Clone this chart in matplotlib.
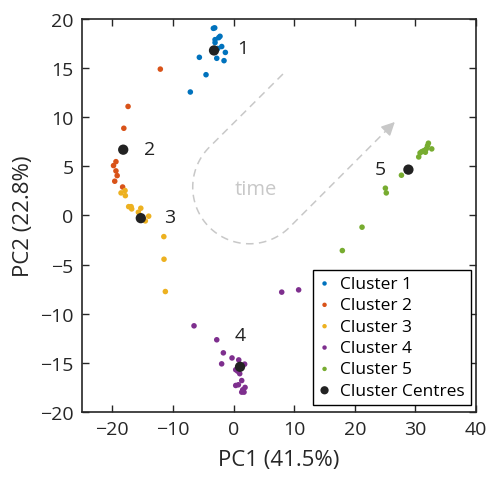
import matplotlib
matplotlib.use('Agg')
import matplotlib.pyplot as plt
import numpy as np

plt.rcParams['font.family'] = ['Open Sans', 'DejaVu Sans']

# PCA scores (PC1, PC2)
c1_x = [-3.33, -3.1, -2.23, -2.45, -3.05, -3.05, -1.95, -2.6, -1.35, -5.64, -2.77, -1.57, -4.54, -7.13]
c1_y = [19.05, 19.1, 18.24, 18.1, 17.9, 17.6, 17.2, 17.0, 16.6, 16.1, 16.0, 15.76, 14.33, 12.57]
c2_x = [-12.08, -17.4, -18.1, -19.4, -19.8, -19.4, -19.2, -19.6, -18.3]
c2_y = [14.9, 11.1, 8.88, 5.48, 5.08, 4.54, 4.06, 3.49, 2.9]
c3_x = [-17.9, -18.56, -17.85, -17.3, -16.9, -16.8, -15.3, -15.7, -14.0, -14.55, -11.5, -11.47, -11.25]
c3_y = [2.54, 2.3, 2.02, 0.9, 0.9, 0.67, 0.74, 0.33, -0.07, -0.55, -2.15, -4.45, -7.74]
c4_x = [7.95, 10.74, -6.52, -2.77, -1.68, -0.25, 0.86, -1.96, 1.83, 0.36, 0.69, 1.02,
        1.35, 0.36, 0.8, 1.9, 1.52, 1.35, 1.73]
c4_y = [-7.8, -7.57, -11.23, -12.65, -13.98, -14.5, -14.7, -15.1, -15.13, -15.7, -15.85, -16.1,
        -16.8, -17.3, -17.23, -17.5, -17.74, -17.98, -17.98]
c5_x = [17.95, 21.2, 25.05, 25.2, 27.7, 30.55, 30.77, 31.05, 31.4, 31.8, 31.65, 32.15, 32.7, 32.0]
c5_y = [-3.57, -1.19, 2.78, 2.3, 4.1, 5.96, 6.37, 6.5, 6.6, 6.78, 6.44, 7.36, 6.78, 7.1]

centre_x = [-3.22, -18.2, -15.3, 1.07, 28.85]
centre_y = [16.8, 6.7, -0.27, -15.4, 4.67]
centre_labels = ['1', '2', '3', '4', '5']
label_x = [1.6, -13.8, -10.6, 1.1, 24.2]
label_y = [17.0, 6.8, -0.2, -12.15, 4.7]

colors = ['#0072BD', '#D95319', '#EDB120', '#7E2F8E', '#77AC30']
names = ['Cluster 1', 'Cluster 2', 'Cluster 3', 'Cluster 4', 'Cluster 5']

# hairpin "time" arrow, in axes fraction
arrow_start = (0.510, 0.860)
arrow_centre = (0.425, 0.572)
arrow_radius = 0.144
arrow_tip = (0.799, 0.743)

fig = plt.figure(figsize=(4.89, 4.81), dpi=100)
ax = fig.add_axes([0.1677, 0.1414, 0.8057, 0.817])

for xs, ys, col, name in zip([c1_x, c2_x, c3_x, c4_x, c5_x], [c1_y, c2_y, c3_y, c4_y, c5_y], colors, names):
    ax.scatter(xs, ys, s=16, color=col, edgecolors='none', label=name, zorder=3)
ax.scatter(centre_x, centre_y, s=55, color='#222222', edgecolors='none', label='Cluster Centres', zorder=4)

for lx, ly, t in zip(label_x, label_y, centre_labels):
    ax.text(lx, ly, t, fontsize=14, color='#222222', ha='center', va='center')

# dashed time path: line down-left, U-turn, line back up-right
grey = '#c8c8c8'
cx, cy = arrow_centre
r = arrow_radius
th = np.linspace(np.deg2rad(135), np.deg2rad(315), 60)
arc_x = cx + r * np.cos(th)
arc_y = cy + r * np.sin(th)
path_x = np.concatenate([[arrow_start[0]], arc_x, [arrow_tip[0] - 0.02]])
path_y = np.concatenate([[arrow_start[1]], arc_y, [arrow_tip[1] - 0.02]])
ax.plot(path_x, path_y, transform=ax.transAxes, color=grey, lw=1.1, dashes=(5, 3.5), zorder=1)
ax.annotate('', xy=arrow_tip, xytext=(arrow_tip[0] - 0.03, arrow_tip[1] - 0.03),
            xycoords='axes fraction', textcoords='axes fraction',
            arrowprops=dict(arrowstyle='-|>,head_length=0.8,head_width=0.4', color=grey, lw=1.1))
ax.text(0.442, 0.568, 'time', transform=ax.transAxes, fontsize=14.5, color=grey, ha='center', va='center')

ax.set_xlim(-25, 40)
ax.set_ylim(-20, 20)
ax.set_xticks(np.arange(-20, 41, 10))
ax.set_yticks(np.arange(-20, 21, 5))
ax.tick_params(direction='in', top=True, right=True, length=5, width=1, labelsize=14,
               colors='#262626', pad=6)
for s in ax.spines.values():
    s.set_linewidth(1.2)
    s.set_color('#262626')
ax.set_xlabel('PC1 (41.5%)', fontsize=16, color='#262626', labelpad=8)
ax.set_ylabel('PC2 (22.8%)', fontsize=16, color='#262626', labelpad=4)

leg = ax.legend(loc='lower right', bbox_to_anchor=(0.987, 0.018), borderaxespad=0, fontsize=12.5,
                fancybox=False, edgecolor='black', framealpha=1, handlelength=0.6, handletextpad=0.6,
                labelspacing=0.3, borderpad=0.35, markerscale=0.8)
leg.get_frame().set_linewidth(1.0)

fig.savefig('out.png', dpi=100)
